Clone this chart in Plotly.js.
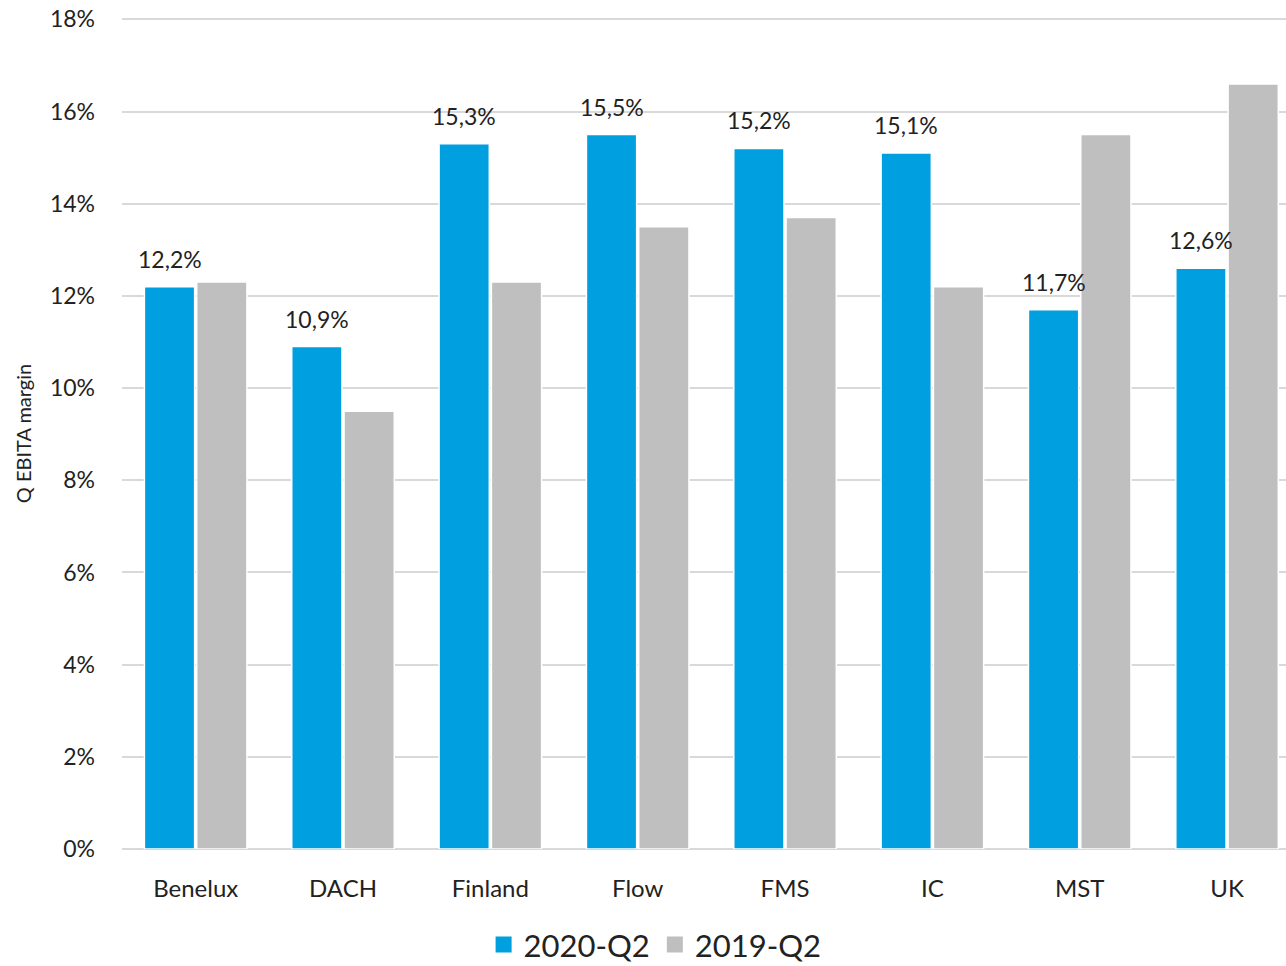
<!DOCTYPE html>
<html>
<head>
<meta charset="utf-8">
<script src="https://cdn.plot.ly/plotly-3.0.1.min.js"></script>
<style>
html,body{margin:0;padding:0;background:#fff;overflow:hidden;}
#chart{width:1286px;height:966px;}
</style>
</head>
<body>
<div id="chart"></div>
<script>
const categories = ["Benelux", "DACH", "Finland", "Flow", "FMS", "IC", "MST", "UK"];
const q2020 = [12.2, 10.9, 15.3, 15.5, 15.2, 15.1, 11.7, 12.6];
const q2019 = [12.3, 9.5, 12.3, 13.5, 13.7, 12.2, 15.5, 16.6];
const seriesNames = ["2020-Q2", "2019-Q2"];
const seriesColors = ["#009FDF", "#BFBFBF"];
const yTickVals = [0, 2, 4, 6, 8, 10, 12, 14, 16, 18];
const yTickText = ["0%", "2%", "4%", "6%", "8%", "10%", "12%", "14%", "16%", "18%"];

const FONT = "Lato, 'Liberation Sans', sans-serif";
const labels2020 = q2020.map(v => v.toFixed(1).replace(".", ",") + "%");

const traces = [
  {
    type: "bar", name: seriesNames[0], x: categories, y: q2020,
    marker: {color: seriesColors[0], line: {color: "#ffffff", width: 1.5}},
    showlegend: false, hoverinfo: "none"
  },
  {
    type: "bar", name: seriesNames[1], x: categories, y: q2019,
    marker: {color: seriesColors[1], line: {color: "#ffffff", width: 1.5}},
    showlegend: false, hoverinfo: "none"
  },
  {
    type: "scatter", mode: "markers", name: seriesNames[0], x: [null], y: [null],
    marker: {symbol: "square", size: 17, color: seriesColors[0]}, showlegend: true
  },
  {
    type: "scatter", mode: "markers", name: seriesNames[1], x: [null], y: [null],
    marker: {symbol: "square", size: 17, color: seriesColors[1]}, showlegend: true
  }
];

const annotations = categories.map((c, i) => ({
  x: c, y: q2020[i], xref: "x", yref: "y",
  text: labels2020[i], showarrow: false,
  xanchor: "center", yanchor: "bottom", xshift: -26, yshift: 12,
  font: {family: FONT, size: 23, color: "#222"}
}));

const layout = {
  width: 1286, height: 966,
  margin: {l: 122, r: 0, t: 18, b: 117, autoexpand: false},
  paper_bgcolor: "#fff", plot_bgcolor: "#fff",
  font: {family: FONT, color: "#222"},
  barmode: "group", bargap: 0.29, bargroupgap: 0.04,
  showlegend: true,
  legend: {
    orientation: "h", x: 0.458, xref: "paper", xanchor: "center",
    y: -0.083, yanchor: "top",
    font: {family: FONT, size: 31, color: "#222"},
    itemwidth: 30, traceorder: "normal"
  },
  annotations: annotations,
  xaxis: {
    type: "category", range: [-0.5, 7.4],
    showline: false, showgrid: false, zeroline: false,
    ticks: "", ticklabelstandoff: 23,
    tickfont: {family: FONT, size: 24, color: "#222"}
  },
  yaxis: {
    range: [0, 18.03], tickvals: yTickVals, ticktext: yTickText,
    showgrid: true, gridcolor: "#D9D9D9", gridwidth: 2,
    zeroline: true, zerolinecolor: "#D9D9D9", zerolinewidth: 2,
    showline: false, ticks: "", ticklabelstandoff: 26,
    tickfont: {family: FONT, size: 23, color: "#222"},
    title: {text: "Q EBITA margin", font: {family: FONT, size: 20, color: "#222"}, standoff: 12}
  }
};

Plotly.newPlot("chart", traces, layout, {displayModeBar: false, staticPlot: true});
</script>
</body>
</html>
